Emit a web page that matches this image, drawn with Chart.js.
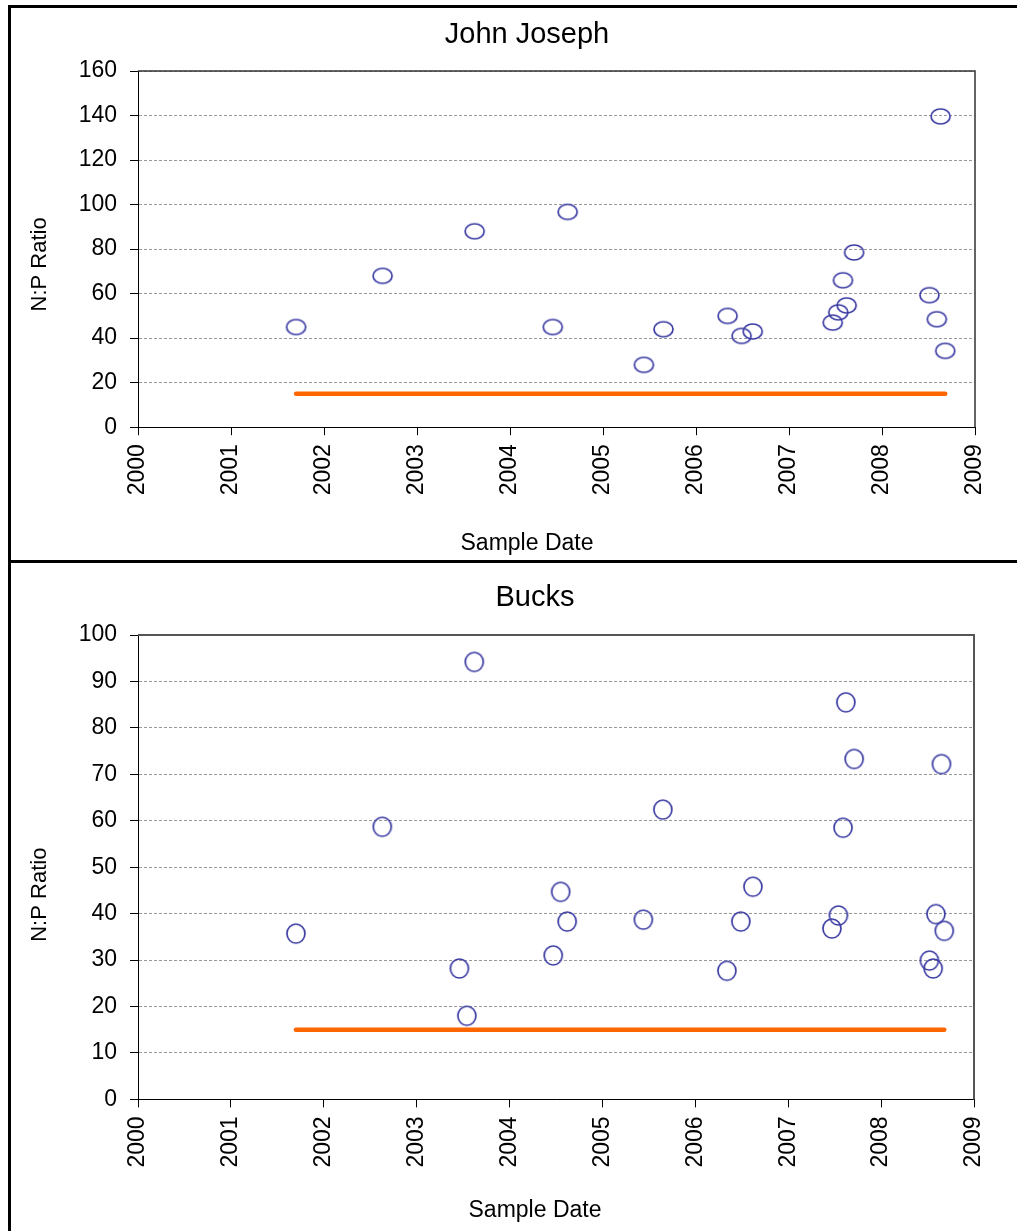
<!DOCTYPE html>
<html>
<head>
<meta charset="utf-8">
<script src="https://cdn.jsdelivr.net/npm/chart.js@4/dist/chart.umd.min.js"></script>
<style>
  html, body { margin: 0; padding: 0; background: #fff; overflow: hidden; width: 1017px; height: 1231px; }
  #frame { position: absolute; left: 8px; top: 5px; width: 1200px; height: 1300px; border-left: 3px solid #000; border-top: 3px solid #000; }
  #divider { position: absolute; left: 8px; top: 560px; width: 1200px; height: 3px; background: #000; }
  .wrap { position: absolute; left: 11px; }
  #w1 { top: 8px; width: 1032px; height: 552px; }
  #w2 { top: 563px; width: 1048px; height: 668px; }
  canvas { display: block; }
</style>
</head>
<body>
<div id="frame"></div>
<div id="divider"></div>
<div class="wrap" id="w1"><canvas id="c1" width="1032" height="552"></canvas></div>
<div class="wrap" id="w2"><canvas id="c2" width="1048" height="668"></canvas></div>
<script>
// ---- Data ----
const yearTicks = [2000, 2001, 2002, 2003, 2004, 2005, 2006, 2007, 2008, 2009];

const jjTitle = "John Joseph";
const jjDates  = [2001.70, 2002.63, 2003.62, 2004.62, 2004.46, 2005.44, 2005.65, 2006.34, 2006.49, 2006.61, 2007.47, 2007.53, 2007.58, 2007.62, 2007.70, 2008.51, 2008.59, 2008.63, 2008.68];
const jjRatios = [45, 68, 88, 96.7, 45, 28, 44, 50, 41, 43, 47, 51.6, 66, 54.7, 78.5, 59.3, 48.5, 139.6, 34.3];

const bucksTitle = "Bucks";
const bucksDates  = [2001.70, 2002.63, 2003.46, 2003.54, 2003.62, 2004.47, 2004.55, 2004.62, 2005.44, 2005.65, 2006.34, 2006.49, 2006.62, 2007.47, 2007.54, 2007.59, 2007.62, 2007.71, 2008.52, 2008.56, 2008.59, 2008.65, 2008.68];
const bucksRatios = [35.7, 58.7, 28.2, 18, 94.2, 31, 44.7, 38.3, 38.7, 62.4, 27.7, 38.3, 45.8, 36.8, 39.6, 58.5, 85.5, 73.3, 29.9, 28.2, 39.9, 72.2, 36.3];

const guideStart = 2001.70;
const guideEnd = 2008.68;
const guideValue = 15;

const yLabel = "N:P Ratio";
const xLabel = "Sample Date";

// ---- Style helpers ----
Chart.defaults.font.family = '"Liberation Sans", Arial, sans-serif';
Chart.defaults.color = '#000';

function ellipseMarker(w, h) {
  const c = document.createElement('canvas');
  c.width = w + 4; c.height = h + 4;
  const g = c.getContext('2d');
  g.strokeStyle = '#3b3ba3';
  g.lineWidth = 1.7;
  g.beginPath();
  g.ellipse(c.width / 2, c.height / 2, w / 2, h / 2, 0, 0, Math.PI * 2);
  g.stroke();
  return c;
}

const plotBorder = {
  id: 'plotBorder',
  afterDatasetsDraw(chart, args, opts) {
    const {ctx, chartArea: a} = chart;
    ctx.save();
    ctx.strokeStyle = opts.color || '#444';
    ctx.lineWidth = opts.width || 1.5;
    ctx.beginPath();
    ctx.moveTo(a.left, a.top);
    ctx.lineTo(a.right, a.top);
    ctx.lineTo(a.right, a.bottom);
    ctx.stroke();
    ctx.restore();
  }
};

function makeChart(id, cfg) {
  const points = cfg.dates.map((d, i) => ({x: d, y: cfg.ratios[i]}));
  return new Chart(document.getElementById(id), {
    type: 'scatter',
    data: {
      datasets: [
        {
          type: 'line',
          data: [{x: guideStart, y: guideValue}, {x: guideEnd, y: guideValue}],
          borderColor: '#ff6600',
          borderWidth: 4.5,
          borderCapStyle: 'round',
          pointRadius: 0,
          fill: false,
          order: 2
        },
        {
          data: points,
          pointStyle: cfg.marker,
          pointRadius: 10,
          order: 1
        }
      ]
    },
    options: {
      responsive: false,
      animation: false,
      layout: { padding: 0 },
      plugins: {
        legend: { display: false },
        tooltip: { enabled: false },
        title: {
          display: true,
          text: cfg.title,
          color: '#000',
          font: { size: 29, weight: 'normal' },
          padding: cfg.titlePad
        },
        subtitle: {
          display: true,
          position: 'bottom',
          text: xLabel,
          color: '#000',
          font: { size: 23, weight: 'normal' },
          padding: cfg.subPad
        },
        plotBorder: cfg.border
      },
      scales: {
        x: {
          type: 'linear',
          min: 2000, max: 2009,
          afterBuildTicks: (s) => { s.ticks = yearTicks.map(v => ({value: v})); },
          afterFit: (s) => { s.height = cfg.xHeight; },
          ticks: {
            autoSkip: false,
            minRotation: 90, maxRotation: 90,
            padding: 9,
            font: { size: 23 },
            color: '#000',
            callback: (v) => String(v)
          },
          grid: { drawOnChartArea: false, drawTicks: true, tickLength: 8, tickColor: '#000', tickWidth: 1 },
          border: { display: true, color: '#000', width: 1 }
        },
        y: {
          min: 0, max: cfg.yMax,
          afterFit: (s) => { s.width = 127; },
          ticks: { stepSize: cfg.yStep, padding: 13, font: { size: 23 }, color: '#000' },
          grid: { color: '#9a9a9a', lineWidth: 1, tickLength: 8, tickColor: '#000', tickWidth: 1, tickBorderDash: [] },
          border: { display: true, color: '#000', width: 1, dash: [3, 2] },
          title: {
            display: true,
            text: yLabel + cfg.yTitleSpaces,
            color: '#000',
            font: { size: 22, weight: 'normal' },
            padding: { top: 16, bottom: 0 }
          }
        },
        yRightSpace: {
          position: 'right',
          display: true,
          afterFit: (s) => { s.width = cfg.rightSpace; },
          ticks: { display: false },
          grid: { display: false },
          border: { display: false }
        }
      }
    },
    plugins: [plotBorder]
  });
}

makeChart('c1', {
  title: jjTitle, dates: jjDates, ratios: jjRatios,
  yMax: 160, yStep: 20,
  marker: ellipseMarker(19, 15),
  rightSpace: 68,
  titlePad: { top: 9.6, bottom: 18.6 },
  subPad: { top: 0, bottom: 2.6 },
  xHeight: 102.6,
  yTitleSpaces: '     ',
  border: { color: '#333', width: 1.5 }
});

makeChart('c2', {
  title: bucksTitle, dates: bucksDates, ratios: bucksRatios,
  yMax: 100, yStep: 10,
  marker: ellipseMarker(18, 19),
  rightSpace: 85,
  titlePad: { top: 17.6, bottom: 19.6 },
  subPad: { top: 0, bottom: 6.2 },
  xHeight: 97.8,
  yTitleSpaces: '         ',
  border: { color: '#555', width: 2 }
});
</script>
</body>
</html>
